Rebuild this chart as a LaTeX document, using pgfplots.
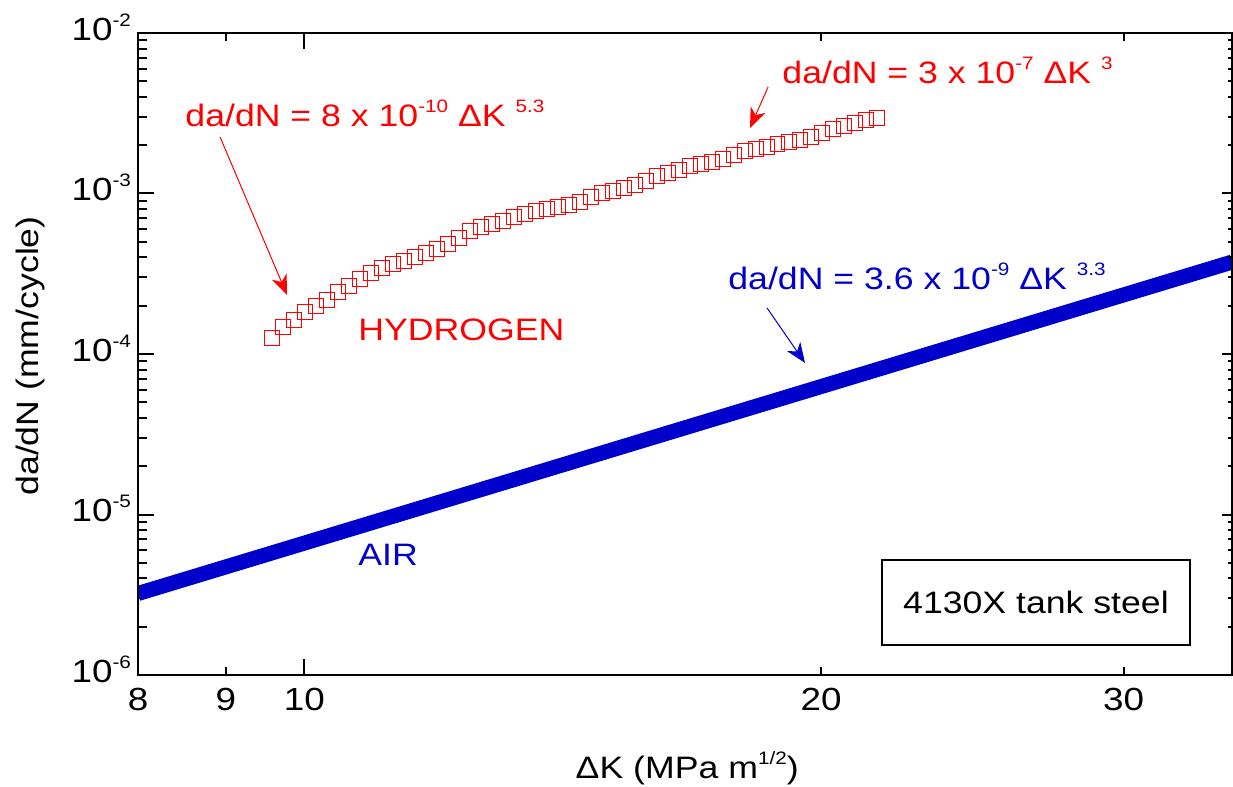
\documentclass[border=0pt]{standalone}
\usepackage{fontspec}
\setmainfont{Liberation Sans}[FakeStretch=1.15]
\usepackage{pgfplots}
\usepackage{pgfplotstable}
\pgfplotsset{compat=1.18}
\usetikzlibrary{arrows.meta}
\definecolor{airblue}{RGB}{0,0,204}
\definecolor{hred}{RGB}{255,0,0}
\newcommand\sups[1]{\raisebox{7pt}{\fontsize{9}{9}\selectfont #1}}
\tikzset{annot/.style={anchor=base west, inner sep=0pt, font=\fontsize{15.5}{18}\selectfont}}

\pgfplotstableread{
x y
9.574 1.258e-4
9.716 1.473e-4
9.861 1.628e-4
10.007 1.827e-4
10.156 1.991e-4
10.307 2.170e-4
10.460 2.434e-4
10.615 2.653e-4
10.773 2.933e-4
10.933 3.197e-4
11.096 3.434e-4
11.260 3.636e-4
11.428 3.796e-4
11.597 4.021e-4
11.770 4.258e-4
11.945 4.509e-4
12.122 4.845e-4
12.302 5.280e-4
12.486 5.839e-4
12.671 6.183e-4
12.859 6.457e-4
13.050 6.741e-4
13.244 7.139e-4
13.441 7.453e-4
13.641 7.780e-4
13.843 8.006e-4
14.049 8.239e-4
14.258 8.478e-4
14.470 8.851e-4
14.685 9.511e-4
14.903 1.007e-3
15.125 1.036e-3
15.350 1.082e-3
15.578 1.130e-3
15.809 1.196e-3
16.044 1.285e-3
16.283 1.342e-3
16.525 1.401e-3
16.770 1.484e-3
17.019 1.527e-3
17.272 1.572e-3
17.529 1.641e-3
17.790 1.738e-3
18.054 1.840e-3
18.322 1.894e-3
18.595 1.949e-3
18.871 2.035e-3
19.151 2.094e-3
19.436 2.154e-3
19.725 2.249e-3
20.018 2.382e-3
20.315 2.522e-3
20.617 2.634e-3
20.924 2.750e-3
21.234 2.870e-3
21.550 2.954e-3
}\hydrogen

\begin{document}
\begin{tikzpicture}
\useasboundingbox (-69pt,-56pt) rectangle (547.5pt,337.5pt);
\begin{axis}[
  at={(0,0)}, anchor=south west,
  scale only axis, width=547pt, height=321pt,
  xmode=log, ymode=log,
  xmin=8, xmax=34.7, ymin=1e-6, ymax=1e-2,
  axis line style={line width=1pt},
  tick style={black, line width=1pt},
  major tick length=8pt, minor tick length=4.5pt,
  xtick={10}, xticklabels={10},
  extra x ticks={8,9,20,30}, extra x tick labels={8,9,20,30},
  extra x tick style={major tick length=4pt},
  ytick={1e-6,1e-5,1e-4,1e-3,1e-2},
  yticklabels={10\sups{-6},10\sups{-5},10\sups{-4},10\sups{-3},10\sups{-2}},
  ytick pos=left,
  /pgf/number format/assume math mode=true,
  tick label style={font=\fontsize{16}{19}\selectfont},
  xticklabel style={yshift=-3pt},
  yticklabel style={yshift=3pt},
  xlabel={ΔK (MPa m\sups{1/2})},
  ylabel={da/dN (mm/cycle)},
  label style={font=\fontsize{15.5}{18}\selectfont},
  xlabel style={at={(axis description cs:0.502,-0.145)}, anchor=center},
  ylabel style={at={(axis description cs:-0.098,0.497)}, anchor=center},
]
\addplot[airblue, line width=7.5pt] coordinates {(8,3.22e-6) (20,6.27e-5) (34.7,3.74e-4)};
\addplot[only marks, mark=square, mark size=3.6pt, hred, mark options={line width=0.45pt}] table {\hydrogen};

\node[annot, text=hred] at (rel axis cs:0.043,0.8551) {da/dN = 8 x 10\sups{-10} ΔK \sups{5.3}};
\draw[hred, line width=0.5pt, -{Stealth[length=10pt,width=8pt,inset=3pt]}] (rel axis cs:0.0750,0.8380) -- (rel axis cs:0.1362,0.5919);

\node[annot, text=hred] at (rel axis cs:0.5887,0.9206) {da/dN = 3 x 10\sups{-7} ΔK \sups{3}};
\draw[hred, line width=0.5pt, -{Stealth[length=10pt,width=8pt,inset=3pt]}] (rel axis cs:0.5759,0.9159) -- (rel axis cs:0.5594,0.8520);

\node[annot, text=hred] at (rel axis cs:0.2011,0.5218) {HYDROGEN};

\node[annot, text=airblue] at (rel axis cs:0.5393,0.5997) {da/dN = 3.6 x 10\sups{-9} ΔK \sups{3.3}};
\draw[airblue, line width=0.5pt, -{Stealth[length=10pt,width=8pt,inset=3pt]}] (rel axis cs:0.5750,0.5717) -- (rel axis cs:0.6097,0.4860);

\node[annot, text=airblue] at (rel axis cs:0.2011,0.1713) {AIR};

\draw[line width=1pt] (rel axis cs:0.6801,0.0467) rectangle (rel axis cs:0.9616,0.1791);
\node[font=\fontsize{15.5}{18}\selectfont] at (rel axis cs:0.8208,0.1129) {4130X tank steel};
\end{axis}
\begin{axis}[
  at={(0,0)}, anchor=south west,
  scale only axis, width=547pt, height=321pt,
  xmode=log, ymode=log,
  xmin=8, xmax=34.7, ymin=1e-6, ymax=1e-2,
  axis line style={line width=1pt},
  tick style={black, line width=1pt},
  major tick length=5pt, minor tick length=2pt,
  xtick=\empty,
  ytick={1e-6,1e-5,1e-4,1e-3,1e-2},
  yticklabel={\empty},
  ytick pos=right,
  yticklabel pos=left,
]
\end{axis}
\end{tikzpicture}
\end{document}
